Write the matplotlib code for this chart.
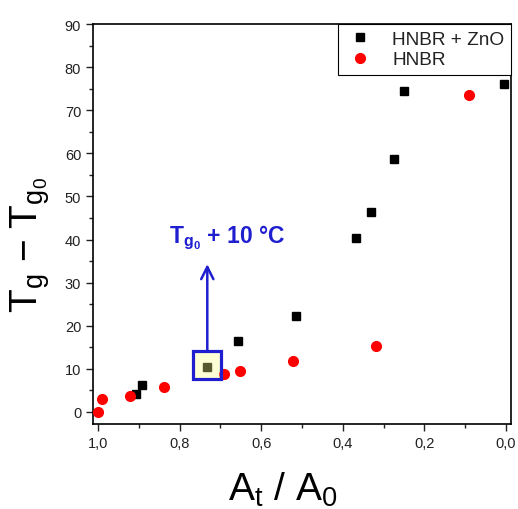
import matplotlib
matplotlib.use('Agg')
import matplotlib.pyplot as plt
from matplotlib.ticker import MultipleLocator, FuncFormatter

plt.rcParams['font.family'] = ['Liberation Sans', 'DejaVu Sans']
plt.rcParams['mathtext.fontset'] = 'custom'
plt.rcParams['mathtext.rm'] = 'Liberation Sans'
plt.rcParams['mathtext.it'] = 'Liberation Sans'
plt.rcParams['mathtext.bf'] = 'Liberation Sans:bold'

# HNBR + ZnO (black squares)
zno_x = [0.005, 0.25, 0.274, 0.332, 0.367, 0.515, 0.657, 0.732, 0.892, 0.906]
zno_y = [76.1, 74.4, 58.8, 46.5, 40.3, 22.2, 16.5, 10.5, 6.3, 4.2]
# HNBR (red circles)
hnbr_x = [0.091, 0.318, 0.521, 0.653, 0.691, 0.837, 0.921, 0.991, 1.0]
hnbr_y = [73.5, 15.2, 11.8, 9.4, 8.7, 5.7, 3.6, 2.9, 0.0]
# highlighted point
mark_x, mark_y = 0.732, 10.5

blue = '#1f1fd0'
fig = plt.figure(figsize=(5.18, 5.10), dpi=100)
ax = fig.add_axes([0.1795, 0.1667, 0.807, 0.784])

ax.plot(zno_x, zno_y, 's', color='black', markersize=5.8, label='HNBR + ZnO', zorder=3)
ax.plot(hnbr_x, hnbr_y, 'o', color='red', markeredgecolor='red', markersize=7, label='HNBR', zorder=3)

# highlight box around the Tg0 + 10 point
ax.plot([mark_x], [mark_y + 0.4], 's', markersize=20, markerfacecolor=(1, 1, 0.55, 0.35),
        markeredgecolor=blue, markeredgewidth=2.3, zorder=4)
ax.annotate('', xy=(mark_x, 34.3), xytext=(mark_x, 14.3),
            arrowprops=dict(arrowstyle='->', color=blue, lw=1.8, mutation_scale=22,
                            shrinkA=0, shrinkB=0), zorder=4)
ax.text(0.684, 40.6, r'$\mathbf{T_{g_0}}$' + ' + 10 °C', color=blue, fontsize=16.5,
        fontweight='bold', ha='center', va='center')

ax.set_xlim(1.012, -0.012)
ax.set_ylim(-2.8, 90)
ax.xaxis.set_major_locator(MultipleLocator(0.2))
ax.xaxis.set_minor_locator(MultipleLocator(0.1))
ax.yaxis.set_major_locator(MultipleLocator(10))
ax.yaxis.set_minor_locator(MultipleLocator(5))
ax.xaxis.set_major_formatter(FuncFormatter(lambda v, p: f'{abs(v):.1f}'.replace('.', ',')))
ax.tick_params(which='both', direction='out', labelsize=10.5, width=1, colors='#222222')
ax.tick_params(which='major', length=5)
ax.tick_params(which='minor', length=3)
for s in ax.spines.values():
    s.set_linewidth(1.2)

ax.set_xlabel(r'$\mathregular{A_t}$ / $\mathregular{A_0}$', fontsize=28)
ax.xaxis.set_label_coords(0.455, -0.115)
ax.set_ylabel(r'$\mathregular{T_g}$ − $\mathregular{T_{g_0}}$', fontsize=28)
ax.yaxis.set_label_coords(-0.097, 0.45)

leg = ax.legend(loc='upper right', borderaxespad=0, fancybox=False, fontsize=13.7,
                edgecolor='black', framealpha=1, handletextpad=0.9, borderpad=0.35,
                labelspacing=0.15, handlelength=1.6, labelcolor='#222222')
leg.get_frame().set_linewidth(0.8)

fig.savefig('out.png', dpi=100)
